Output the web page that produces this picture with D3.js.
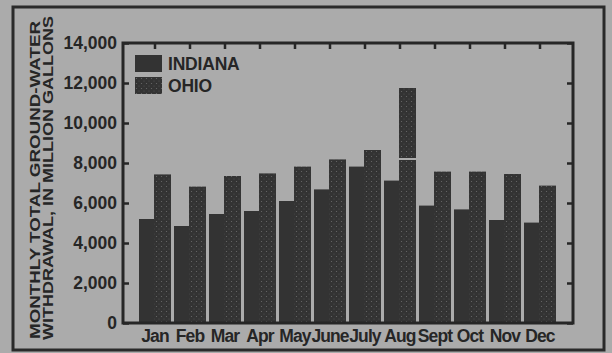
<!DOCTYPE html>
<html>
<head>
<meta charset="utf-8">
<script src="https://cdn.jsdelivr.net/npm/d3@7"></script>
<style>
  body { margin: 0; background: #ababab; }
  text { font-family: "Liberation Sans", Arial, sans-serif; font-weight: bold; fill: #262626; }
</style>
</head>
<body>
<div id="chart"></div>
<script>
var months = ["Jan", "Feb", "Mar", "Apr", "May", "June", "July", "Aug", "Sept", "Oct", "Nov", "Dec"];
var indiana = [5200, 4850, 5450, 5600, 6100, 6680, 7820, 7120, 5870, 5680, 5150, 5020];
var ohio = [7430, 6820, 7350, 7480, 7820, 8180, 8650, 11750, 7570, 7570, 7450, 6870];
var yTicks = [0, 2000, 4000, 6000, 8000, 10000, 12000, 14000];
var series = ["INDIANA", "OHIO"];
// light seam across the tall Aug bar in the original paste-up
var seamAt = 8200;

var W = 612, H = 353;
var plot = {left: 123, right: 573, top: 43, bottom: 323};

var svg = d3.select("#chart")
  .append("svg")
    .attr("width", W)
    .attr("height", H);

// dotted fill for ohio
var pat = svg.append("defs").append("pattern")
    .attr("id", "dots")
    .attr("width", 5)
    .attr("height", 5)
    .attr("patternUnits", "userSpaceOnUse");
pat.append("rect").attr("width", 5).attr("height", 5).attr("fill", "#333333");
pat.append("circle").attr("cx", 1.5).attr("cy", 1.5).attr("r", 0.6).attr("fill", "#6a6a6a");
pat.append("circle").attr("cx", 4).attr("cy", 4).attr("r", 0.5).attr("fill", "#555555");

svg.append("rect")
  .attr("width", W).attr("height", H)
  .attr("fill", "#ababab");

// outer frame
svg.append("rect")
  .attr("x", 13).attr("y", 7)
  .attr("width", 591).attr("height", 343)
  .attr("fill", "none")
  .attr("stroke", "#2a2a2a")
  .attr("stroke-width", 3);

var y = d3.scaleLinear()
  .domain([0, 14000])
  .range([plot.bottom, plot.top]);

var x = d3.scaleBand()
  .domain(months)
  .range([137.5, 557.5]);

var xs = d3.scaleBand()
  .domain(series)
  .range([-16, 16]);

var groups = svg.selectAll("g.month")
  .data(months)
  .enter()
  .append("g")
    .attr("class", "month")
    .attr("transform", function(d){ return "translate(" + (x(d) + x.bandwidth() / 2) + ",0)"; });

groups.append("rect")
  .attr("x", xs("INDIANA"))
  .attr("width", xs.bandwidth() - 1)
  .attr("y", function(d, i){ return y(indiana[i]); })
  .attr("height", function(d, i){ return y(0) - y(indiana[i]); })
  .attr("fill", "#333333");

groups.append("rect")
  .attr("x", xs("OHIO") - 1)
  .attr("width", xs.bandwidth() + 1)
  .attr("y", function(d, i){ return y(ohio[i]); })
  .attr("height", function(d, i){ return y(0) - y(ohio[i]); })
  .attr("fill", "url(#dots)");

// seam only where a bar passes it
groups.filter(function(d, i){ return ohio[i] > seamAt + 2000; })
  .append("line")
    .attr("x1", xs("OHIO") - 1)
    .attr("x2", xs("OHIO") + xs.bandwidth())
    .attr("y1", y(seamAt))
    .attr("y2", y(seamAt))
    .attr("stroke", "#d4d4d4")
    .attr("stroke-width", 1.5);

// left axis
var yAxis = svg.append("g")
  .attr("transform", "translate(" + plot.left + ",0)")
  .call(d3.axisRight(y).tickValues(yTicks).tickSize(6).tickFormat(""));
yAxis.select(".domain").remove();
yAxis.selectAll("line").attr("stroke", "#262626").attr("stroke-width", 2.5);

svg.selectAll("text.ylab")
  .data(yTicks)
  .enter()
  .append("text")
    .attr("class", "ylab")
    .attr("x", 117)
    .attr("y", function(d){ return y(d) + 6; })
    .attr("text-anchor", "end")
    .style("font-size", "17.5px")
    .text(function(d){ return d3.format(",")(d); });

// right axis
var yAxisR = svg.append("g")
  .attr("transform", "translate(" + plot.right + ",0)")
  .call(d3.axisLeft(y).tickValues(yTicks).tickSize(6).tickFormat(""));
yAxisR.select(".domain").remove();
yAxisR.selectAll("line").attr("stroke", "#262626").attr("stroke-width", 2.5);

// top ticks at month centres
var xTop = svg.append("g")
  .attr("transform", "translate(0," + plot.top + ")")
  .call(d3.axisBottom(x).tickSize(6).tickFormat(""));
xTop.select(".domain").remove();
xTop.selectAll("line").attr("stroke", "#262626").attr("stroke-width", 2.5);

// plot frame
svg.append("rect")
  .attr("x", plot.left).attr("y", plot.top)
  .attr("width", plot.right - plot.left)
  .attr("height", plot.bottom - plot.top)
  .attr("fill", "none")
  .attr("stroke", "#262626")
  .attr("stroke-width", 3);

// month labels
svg.selectAll("text.mlab")
  .data(months)
  .enter()
  .append("text")
    .attr("class", "mlab")
    .attr("x", function(d){ return x(d) + x.bandwidth() / 2; })
    .attr("y", 342)
    .attr("text-anchor", "middle")
    .style("font-size", "17.5px")
    .style("letter-spacing", "-0.9px")
    .text(function(d){ return d; });

// legend
var legend = svg.selectAll("g.leg")
  .data(series)
  .enter()
  .append("g")
    .attr("class", "leg")
    .attr("transform", function(d, i){ return "translate(135," + (55 + i * 22) + ")"; });
legend.append("rect")
  .attr("width", 27).attr("height", 17)
  .attr("fill", function(d){ return d === "OHIO" ? "url(#dots)" : "#333333"; });
legend.append("text")
  .attr("x", 33).attr("y", 15)
  .style("font-size", "17.5px")
  .style("letter-spacing", "-0.2px")
  .text(function(d){ return d; });

// y title
var titleLines = ["MONTHLY TOTAL GROUND-WATER", "WITHDRAWAL, IN MILLION GALLONS"];
svg.selectAll("text.ytitle")
  .data(titleLines)
  .enter()
  .append("text")
    .attr("class", "ytitle")
    .attr("transform", function(d, i){ return "translate(" + (40 + i * 13) + "," + (i === 0 ? 180 : 178) + ")rotate(-90)"; })
    .attr("text-anchor", "middle")
    .attr("textLength", function(d, i){ return i === 0 ? 318 : 324; })
    .attr("lengthAdjust", "spacingAndGlyphs")
    .style("font-size", "15.5px")
    .text(function(d){ return d; });
</script>
</body>
</html>
